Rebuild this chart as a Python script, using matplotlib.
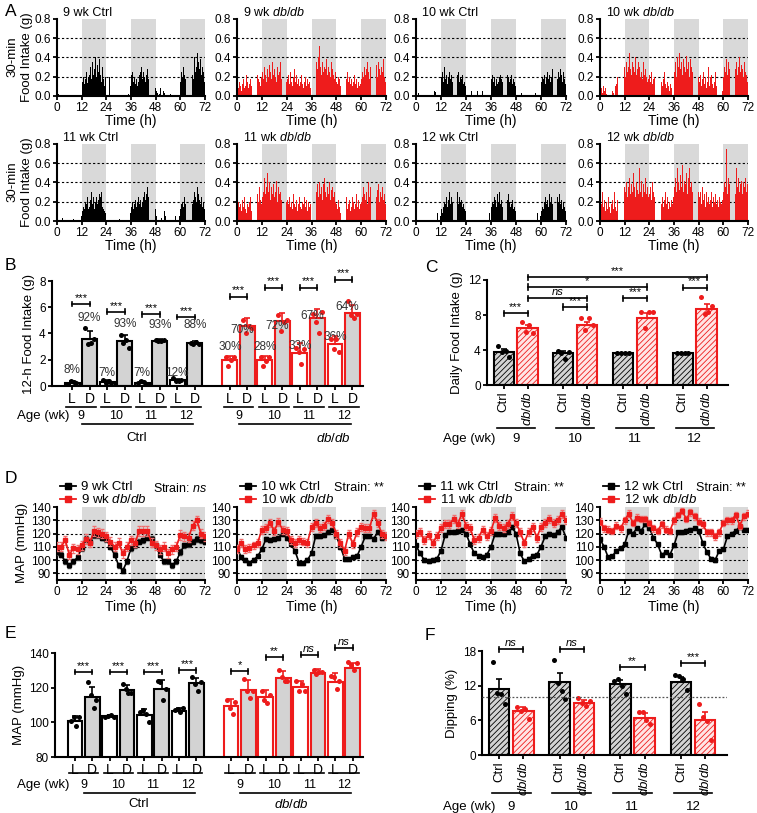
import matplotlib
matplotlib.use("Agg")
import matplotlib.pyplot as plt
from matplotlib.lines import Line2D
import numpy as np

W, H = 757, 813
plt.rcParams['font.family'] = ['Liberation Sans', 'DejaVu Sans']
plt.rcParams['mathtext.fontset'] = 'custom'
plt.rcParams['mathtext.rm'] = 'Liberation Sans'
plt.rcParams['mathtext.it'] = 'Liberation Sans:italic'
plt.rcParams['hatch.linewidth'] = 0.6

RED = '#ee1c1c'
GRAY = '#d3d3d3'
SHADE = '#d9d9d9'

# ---------------- A: 30-min food intake, hundredths of g, 144 bins (0-72 h)
food_9_ctrl = [0, 2, 1, 1, 0, 0, 0, 0, 0, 0, 0, 0, 0, 0, 0, 0, 0, 0, 3, 5, 1, 0, 0, 0,
               15, 20, 12, 18, 25, 14, 20, 22, 30, 18, 35, 22, 28, 40, 20, 32, 25, 38, 22, 15, 30, 18, 10, 20,
               0, 0, 0, 20, 0, 0, 0, 0, 0, 0, 0, 0, 0, 0, 0, 0, 0, 0, 0, 0, 0, 2, 0, 10,
               22, 25, 15, 20, 12, 18, 10, 15, 22, 25, 30, 18, 25, 20, 15, 22, 28, 18, 12, 20, 15, 10, 12, 8,
               5, 3, 0, 2, 8, 0, 0, 5, 3, 0, 0, 0, 0, 0, 2, 0, 0, 0, 0, 0, 0, 0, 0, 0,
               15, 25, 20, 30, 22, 18, 28, 35, 25, 20, 30, 22, 18, 40, 25, 30, 45, 35, 28, 38, 22, 30, 25, 15]
food_9_db = [12, 8, 15, 10, 5, 12, 18, 8, 10, 22, 15, 8, 12, 18, 10, 5, 15, 20, 12, 22, 18, 15, 10, 20,
             25, 18, 30, 22, 15, 28, 20, 32, 25, 18, 35, 22, 28, 20, 15, 30, 22, 25, 35, 18, 28, 22, 20, 15,
             18, 22, 12, 25, 15, 10, 20, 28, 15, 22, 12, 18, 10, 15, 22, 12, 8, 15, 20, 10, 18, 12, 15, 8,
             20, 30, 25, 18, 35, 28, 40, 52, 30, 22, 35, 25, 30, 28, 38, 22, 30, 25, 20, 35, 28, 22, 18, 25,
             15, 12, 20, 18, 10, 22, 15, 8, 12, 18, 25, 15, 20, 12, 18, 10, 15, 22, 12, 18, 8, 15, 10, 12,
             18, 25, 20, 30, 22, 28, 35, 25, 18, 30, 22, 40, 28, 25, 32, 20, 35, 28, 22, 30, 25, 38, 20, 15]
food_10_ctrl = [0, 0, 3, 0, 0, 0, 0, 0, 0, 0, 0, 0, 0, 0, 0, 0, 0, 5, 4, 0, 0, 0, 0, 0,
                20, 25, 15, 30, 18, 22, 12, 20, 25, 18, 22, 15, 20, 28, 18, 22, 25, 15, 20, 18, 22, 12, 15, 10,
                0, 0, 0, 0, 0, 5, 0, 0, 0, 0, 0, 5, 0, 0, 0, 5, 0, 0, 0, 0, 0, 0, 0, 0,
                18, 22, 15, 20, 10, 18, 12, 15, 20, 22, 18, 15, 20, 25, 18, 22, 20, 15, 18, 22, 12, 18, 15, 10,
                0, 0, 0, 0, 0, 3, 0, 0, 0, 0, 0, 0, 0, 0, 0, 0, 0, 0, 3, 0, 0, 0, 0, 0,
                15, 20, 18, 22, 12, 20, 25, 18, 22, 15, 20, 28, 22, 25, 30, 18, 25, 20, 28, 22, 15, 25, 18, 12]
food_10_db = [5, 8, 3, 10, 5, 8, 2, 0, 0, 0, 0, 0, 5, 3, 0, 10, 12, 20, 15, 25, 18, 10, 15, 30,
              20, 35, 25, 30, 45, 28, 22, 35, 30, 25, 40, 22, 28, 35, 30, 20, 25, 18, 35, 22, 28, 20, 15, 18,
              22, 15, 25, 12, 18, 20, 10, 15, 8, 12, 20, 15, 10, 18, 25, 12, 8, 15, 10, 5, 12, 8, 0, 0,
              25, 35, 20, 40, 30, 45, 28, 35, 22, 38, 30, 25, 42, 28, 35, 20, 38, 30, 25, 45, 22, 30, 35, 20,
              15, 22, 10, 18, 25, 12, 20, 8, 15, 30, 10, 20, 22, 12, 8, 15, 25, 10, 0, 0, 0, 0, 0, 5,
              20, 30, 25, 38, 22, 35, 28, 40, 25, 32, 20, 28, 35, 22, 30, 40, 25, 32, 28, 20, 35, 25, 22, 15]
food_11_ctrl = [0, 0, 0, 0, 0, 3, 0, 0, 0, 0, 0, 0, 0, 0, 0, 0, 2, 0, 0, 3, 0, 0, 4, 5,
                10, 15, 12, 20, 18, 25, 12, 15, 22, 30, 18, 25, 12, 20, 25, 18, 22, 28, 25, 30, 15, 12, 10, 8,
                0, 0, 0, 0, 0, 0, 0, 0, 0, 0, 0, 0, 2, 0, 0, 0, 0, 0, 0, 0, 0, 0, 0, 8,
                15, 20, 12, 18, 22, 15, 20, 25, 18, 22, 15, 20, 25, 30, 22, 28, 35, 25, 40, 30, 22, 18, 15, 12,
                5, 0, 0, 0, 0, 3, 0, 0, 10, 5, 0, 0, 0, 0, 0, 0, 0, 0, 0, 5, 0, 0, 0, 5,
                12, 18, 20, 15, 25, 18, 22, 12, 20, 28, 25, 18, 22, 30, 25, 20, 35, 28, 22, 18, 25, 15, 20, 12]
food_11_db = [30, 20, 15, 18, 10, 22, 15, 25, 12, 8, 18, 15, 20, 25, 10, 18, 12, 22, 15, 28, 20, 35, 22, 18,
              25, 30, 45, 28, 35, 50, 30, 40, 22, 35, 28, 38, 25, 30, 42, 20, 35, 28, 30, 22, 38, 25, 30, 20,
              22, 18, 25, 15, 20, 12, 28, 18, 15, 22, 10, 18, 25, 15, 12, 20, 18, 25, 15, 22, 10, 20, 15, 18,
              25, 35, 22, 48, 30, 38, 25, 40, 28, 35, 22, 38, 45, 30, 25, 35, 28, 40, 22, 32, 35, 25, 30, 20,
              18, 12, 22, 15, 8, 0, 0, 20, 15, 25, 12, 18, 22, 10, 15, 25, 20, 12, 18, 28, 15, 22, 12, 18,
              20, 25, 35, 28, 22, 30, 18, 40, 25, 35, 30, 22, 45, 28, 25, 32, 38, 20, 30, 25, 35, 22, 28, 18]
food_12_ctrl = [10, 0, 0, 0, 0, 0, 0, 0, 0, 0, 0, 0, 5, 0, 0, 0, 0, 0, 0, 0, 8, 0, 0, 5,
                12, 8, 15, 20, 18, 25, 15, 22, 30, 18, 25, 20, 15, 28, 22, 30, 18, 25, 20, 22, 15, 18, 12, 10,
                0, 0, 0, 0, 0, 0, 0, 0, 0, 0, 0, 0, 0, 0, 0, 0, 0, 0, 0, 0, 0, 0, 8, 0,
                15, 20, 18, 25, 22, 15, 28, 20, 30, 18, 22, 15, 20, 25, 18, 22, 28, 20, 15, 18, 22, 12, 15, 10,
                0, 0, 0, 0, 0, 0, 0, 0, 0, 0, 0, 0, 0, 0, 5, 0, 0, 0, 0, 0, 8, 0, 0, 5,
                10, 15, 12, 20, 25, 18, 22, 15, 28, 20, 25, 18, 30, 22, 15, 25, 20, 28, 18, 22, 12, 20, 15, 10]
food_12_db = [25, 18, 30, 15, 22, 10, 20, 12, 25, 15, 8, 18, 22, 12, 30, 15, 10, 22, 18, 25, 12, 28, 20, 35,
              30, 40, 25, 35, 45, 28, 38, 30, 50, 35, 25, 40, 32, 28, 55, 30, 42, 25, 38, 30, 45, 28, 35, 25,
              28, 35, 22, 40, 30, 25, 35, 20, 28, 22, 30, 18, 25, 15, 22, 30, 18, 25, 12, 20, 15, 22, 18, 25,
              35, 45, 30, 55, 40, 32, 48, 35, 58, 30, 42, 38, 50, 28, 45, 55, 35, 40, 30, 48, 35, 42, 28, 30,
              25, 30, 18, 35, 22, 28, 15, 30, 20, 25, 18, 22, 30, 15, 25, 20, 28, 18, 22, 15, 25, 20, 18, 22,
              30, 40, 35, 75, 28, 45, 38, 30, 50, 35, 42, 28, 55, 35, 45, 30, 38, 42, 28, 40, 35, 45, 30, 38]
food_titles = ['9 wk Ctrl', '9 wk $\\it{db/db}$', '10 wk Ctrl', '10 wk $\\it{db/db}$',
               '11 wk Ctrl', '11 wk $\\it{db/db}$', '12 wk Ctrl', '12 wk $\\it{db/db}$']

# ---------------- B: 12-h food intake (g), L / D per age
ages = ['9', '10', '11', '12']
b_ctrl_L = [0.25, 0.3, 0.25, 0.45]
b_ctrl_D = [3.6, 3.4, 3.45, 3.25]
b_db_L = [2.0, 1.95, 2.55, 3.2]
b_db_D = [4.55, 4.95, 5.15, 5.55]
b_ctrl_L_sd = [0.1, 0.12, 0.1, 0.12]
b_ctrl_D_sd = [0.6, 0.45, 0.1, 0.15]
b_db_L_sd = [0.3, 0.35, 0.7, 0.6]
b_db_D_sd = [0.6, 0.6, 0.75, 0.6]
b_ctrl_L_pts = [[0.15, 0.35, 0.3, 0.2], [0.45, 0.2, 0.35, 0.2], [0.2, 0.35, 0.3, 0.15], [0.6, 0.35, 0.4, 0.45]]
b_ctrl_D_pts = [[4.4, 3.2, 3.3, 3.6], [3.9, 3.3, 3.5, 2.9], [3.5, 3.45, 3.4, 3.5], [3.3, 3.2, 3.35, 3.2]]
b_db_L_pts = [[2.2, 1.5, 2.0, 2.2], [2.2, 1.5, 1.9, 2.2], [2.9, 2.6, 1.7, 2.8], [3.6, 2.8, 3.6, 2.6]]
b_db_D_pts = [[5.0, 4.0, 4.6, 4.4], [5.4, 4.2, 4.9, 5.0], [5.5, 4.9, 4.0, 5.6], [6.5, 5.4, 5.2, 5.5]]
b_pct_L = ['8%', '7%', '7%', '12%', '30%', '28%', '33%', '36%']
b_pct_D = ['92%', '93%', '93%', '88%', '70%', '72%', '67%', '64%']
b_sig_ctrl = ['***', '***', '***', '***']
b_sig_db = ['***', '***', '***', '***']

# ---------------- C: daily food intake (g)
c_ctrl = [3.8, 3.6, 3.65, 3.65]
c_db = [6.5, 6.8, 7.6, 8.7]
c_ctrl_sem = [0.3, 0.3, 0.05, 0.05]
c_db_sem = [0.35, 0.45, 0.6, 0.55]
c_ctrl_pts = [[4.5, 3.8, 3.9, 3.2], [3.9, 3.6, 3.0, 3.8], [3.7, 3.6, 3.65, 3.7], [3.7, 3.6, 3.65, 3.7]]
c_db_pts = [[7.2, 6.1, 6.8, 5.9], [7.6, 6.3, 7.7, 6.8], [8.3, 6.5, 8.3, 8.3], [10.0, 8.1, 8.3, 9.0]]
c_sig_pair = ['***', '***', '***', '***']
c_sig_long = ['ns', '*', '***']

# ---------------- D: MAP time course, 2-h bins 0-72 h
map_time = [0, 2, 4, 6, 8, 10, 12, 14, 16, 18, 20, 22, 24, 26, 28, 30, 32, 34, 36,
            38, 40, 42, 44, 46, 48, 50, 52, 54, 56, 58, 60, 62, 64, 66, 68, 70, 72]
map_9_ctrl = [106, 104, 99, 96, 99, 102, 109, 116, 114, 119, 119, 117, 116, 110, 104, 96, 92, 99, 109,
              111, 114, 115, 117, 116, 111, 104, 99, 99, 96, 99, 106, 111, 112, 114, 116, 115, 114]
map_9_db = [110, 110, 115, 104, 109, 108, 111, 116, 113, 122, 121, 120, 118, 114, 110, 113, 105, 110, 115,
            113, 122, 122, 122, 113, 111, 108, 110, 105, 108, 110, 119, 118, 117, 126, 130, 120, 118]
map_10_ctrl = [110, 102, 100, 98, 100, 103, 108, 116, 115, 116, 117, 120, 117, 112, 107, 98, 98, 100, 105,
               118, 118, 119, 121, 123, 118, 110, 101, 101, 102, 103, 110, 118, 118, 116, 121, 117, 118]
map_10_db = [108, 113, 108, 109, 111, 113, 123, 124, 128, 122, 129, 123, 122, 115, 113, 115, 114, 113, 125,
             128, 124, 126, 131, 128, 120, 113, 107, 120, 112, 121, 125, 124, 124, 135, 128, 120, 118]
map_11_ctrl = [111, 105, 100, 99, 100, 101, 107, 119, 121, 121, 122, 123, 120, 112, 105, 103, 102, 104, 110,
               120, 120, 120, 121, 125, 120, 105, 99, 101, 103, 104, 110, 118, 120, 119, 121, 125, 117]
map_11_db = [120, 121, 115, 119, 113, 118, 124, 127, 127, 131, 127, 135, 126, 124, 115, 117, 123, 118, 122,
             132, 126, 124, 127, 133, 128, 121, 113, 121, 125, 117, 125, 128, 131, 128, 130, 135, 130]
map_12_ctrl = [116, 110, 102, 103, 107, 109, 112, 122, 120, 124, 122, 127, 124, 117, 112, 104, 106, 104, 111,
               121, 121, 122, 123, 124, 122, 113, 106, 101, 100, 107, 108, 118, 120, 122, 125, 123, 123]
map_12_db = [129, 124, 123, 122, 126, 124, 130, 135, 128, 132, 131, 131, 128, 124, 122, 127, 123, 122, 130,
             134, 137, 131, 136, 133, 129, 127, 121, 121, 118, 121, 128, 130, 130, 134, 126, 133, 135]
map_sem_ctrl = [2.0, 1.5, 1.5, 1.2]
map_sem_db = [3.5, 3.0, 3.0, 2.5]
map_strain = ['$\\it{ns}$', '**', '**', '**']

# ---------------- E: MAP light / dark (mmHg)
e_ctrl_L = [100.5, 103.5, 104.5, 106.5]
e_ctrl_D = [114.5, 118.5, 119.5, 122.5]
e_db_L = [109.5, 114.5, 120.5, 123.5]
e_db_D = [118.5, 125.5, 128.5, 131.5]
e_ctrl_L_sd = [3, 1, 3, 1.5]
e_ctrl_D_sd = [6, 3, 5, 3]
e_db_L_sd = [4, 4, 3.5, 5]
e_db_D_sd = [6, 4, 2, 3]
e_ctrl_L_pts = [[101, 103, 98, 103], [103, 103.5, 104, 103], [106, 107, 105, 100], [107, 107.5, 106, 108]]
e_ctrl_D_pts = [[123, 116, 108, 113], [122, 119, 117, 117], [124, 123, 113, 119], [126, 122, 118, 123]]
e_db_L_pts = [[113, 108, 105, 112], [118, 113, 111, 116], [124, 118, 122, 118], [127, 126, 119, 124]]
e_db_D_pts = [[125, 118, 114, 118], [130, 126, 124, 124], [130, 128, 129, 129], [135, 133, 130, 134]]
e_sig_ctrl = ['***', '***', '***', '***']
e_sig_db = ['*', '**', 'ns', 'ns']

# ---------------- F: dipping (%)
f_ctrl = [11.4, 12.6, 12.3, 12.7]
f_db = [7.7, 9.0, 6.4, 6.0]
f_ctrl_sem = [1.7, 1.6, 0.6, 0.8]
f_db_sem = [0.6, 0.5, 0.8, 1.4]
f_ctrl_pts = [[16.1, 10.8, 10.5, 8.8], [16.4, 12.5, 11.0, 9.7], [12.8, 13.2, 11.9, 10.5], [13.9, 13.6, 13.2, 11.2]]
f_db_pts = [[8.3, 7.7, 7.9, 6.3], [9.8, 9.0, 8.4, 9.3], [7.5, 7.5, 6.0, 5.3], [8.9, 6.5, 5.8, 2.6]]
f_sig = ['ns', 'ns', '**', '***']

# layout of annotations (heights in data units)
b_sig_y_ctrl = [6.25, 5.65, 5.45, 5.25]
b_sig_y_db = [6.8, 7.5, 7.5, 8.1]
b_pct_y_L = [1.2, 1.02, 1.02, 1.02, 3.0, 3.0, 3.06, 3.75]
b_pct_y_D = [5.2, 4.7, 4.64, 4.64, 4.25, 4.6, 5.35, 6.04]
c_sig_pair_y = [8.2, 8.9, 9.9, 11.1]
c_sig_long_y = [9.9, 11.2, 12.3]
e_sig_y_ctrl = [129, 129, 129, 130]
e_sig_y_db = [129.5, 137.5, 139, 143]
f_sig_y = [18.3, 18.3, 15.2, 15.9]


def px_axes(fig, x0, y0, x1, y1):
    return fig.add_axes([x0 / W, 1 - y1 / H, (x1 - x0) / W, (y1 - y0) / H])


def yfrac(ax, ypx):
    b = ax.get_position()
    return ((1 - ypx / H) - b.y0) / b.height


def style(ax, fs=8.5):
    for s in ['top', 'right']:
        ax.spines[s].set_visible(False)
    for s in ['left', 'bottom']:
        ax.spines[s].set_linewidth(1.5)
    ax.tick_params(width=1.3, length=3, labelsize=fs, pad=1.5)


def under_text(ax, x, ypx, s, **kw):
    ax.text(x, yfrac(ax, ypx), s, transform=ax.get_xaxis_transform(), ha='center', va='center',
            clip_on=False, **kw)


def under_line(ax, x0, x1, ypx):
    y = yfrac(ax, ypx)
    ax.plot([x0, x1], [y, y], transform=ax.get_xaxis_transform(), color='k', lw=1.2, clip_on=False)


def bracket(ax, x0, x1, y, label, tick, fs=8):
    ax.plot([x0, x1], [y, y], color='k', lw=1.2, clip_on=False, zorder=5)
    for xx in (x0, x1):
        ax.plot([xx, xx], [y - tick, y + tick], color='k', lw=1.2, clip_on=False, zorder=5)
    it = label == 'ns'
    ax.text((x0 + x1) / 2, y + tick * 0.5, label, ha='center', va='bottom', fontsize=fs,
            style='italic' if it else 'normal', clip_on=False)


def bars(ax, x, means, errs, pts, face, edge, dot, hatch=None, width=0.85):
    ax.bar(x, means, width=width, color=face, edgecolor=edge, linewidth=1.5, hatch=hatch, zorder=2)
    ax.errorbar(x, means, yerr=[np.zeros(len(x)), errs], fmt='none', ecolor=edge, elinewidth=1.2,
                capsize=2.5, capthick=1.2, zorder=3)
    offs = np.array([-0.24, -0.08, 0.08, 0.24])
    for xi, p in zip(x, pts):
        ax.scatter(xi + offs, p, s=13, color=dot, zorder=4, linewidths=0, clip_on=False)


fig = plt.figure(figsize=(W / 100, H / 100), dpi=100)

# ================= A
cols = [(57, 205), (237, 386), (416, 566), (600, 748)]
rows = [(19, 96), (144, 221)]
food_all = [food_9_ctrl, food_9_db, food_10_ctrl, food_10_db,
            food_11_ctrl, food_11_db, food_12_ctrl, food_12_db]
t_food = np.arange(144) * 0.5
for i, data in enumerate(food_all):
    r = rows[i // 4]
    c = cols[i % 4]
    ax = px_axes(fig, c[0], r[0], c[1], r[1])
    style(ax)
    for s in (12, 36, 60):
        ax.axvspan(s, s + 12, color=SHADE, lw=0, zorder=0)
    for v in (0.2, 0.4, 0.6):
        ax.axhline(v, color='k', ls=(0, (2, 2)), lw=0.8, zorder=1)
    col = 'k' if i % 2 == 0 else RED
    ax.bar(t_food, np.array(data) / 100, width=0.42, align='edge', color=col, lw=0, zorder=2)
    ax.set_xlim(0, 72)
    ax.set_ylim(0, 0.8)
    ax.set_xticks(range(0, 73, 12))
    ax.set_yticks([0, 0.2, 0.4, 0.6, 0.8])
    ax.set_yticklabels(['0.0', '0.2', '0.4', '0.6', '0.8'])
    ax.set_xlabel('Time (h)', fontsize=10, labelpad=0)
    ax.text(0.04, 1.0, food_titles[i], transform=ax.transAxes, fontsize=9, va='bottom')
for yc in (57, 182):
    fig.text(12 / W, 1 - yc / H, '30-min', rotation=90, fontsize=9.5, ha='center', va='center')
    fig.text(27 / W, 1 - yc / H, 'Food Intake (g)', rotation=90, fontsize=9.5, ha='center', va='center')


# ================= B and E (light / dark bars)
def ld_panel(ax, cL, cD, dL, dD, cLe, cDe, dLe, dDe, cLp, cDp, dLp, dDp, ys):
    pos_cL = np.array([0, 2, 4, 6])
    pos_dL = pos_cL + 9
    bars(ax, pos_cL, cL, cLe, cLp, 'white', 'k', 'k')
    bars(ax, pos_cL + 1, cD, cDe, cDp, GRAY, 'k', 'k')
    bars(ax, pos_dL, dL, dLe, dLp, 'white', RED, RED)
    bars(ax, pos_dL + 1, dD, dDe, dDp, GRAY, RED, RED)
    ticks = np.concatenate([pos_cL, pos_cL + 1, pos_dL, pos_dL + 1])
    ax.set_xticks(ticks)
    ax.set_xticklabels(['L'] * 4 + ['D'] * 4 + ['L'] * 4 + ['D'] * 4, fontsize=10)
    ax.set_xlim(-1.15, 16.6)
    ly, ny, gy, sy = ys
    for p in np.concatenate([pos_cL, pos_dL]):
        under_line(ax, p - 0.35, p + 1.35, ly)
    for k, p in enumerate(pos_cL):
        under_text(ax, p + 0.5, ny, ages[k], fontsize=9)
        under_text(ax, p + 9.5, ny, ages[k], fontsize=9)
    under_line(ax, 0.55, 6.9, gy)
    under_line(ax, 9.5, 15.9, gy)
    return pos_cL, pos_dL


axB = px_axes(fig, 52, 281, 363, 386)
style(axB)
axB.set_ylim(0, 8)
axB.set_yticks([0, 2, 4, 6, 8])
pcL, pdL = ld_panel(axB, b_ctrl_L, b_ctrl_D, b_db_L, b_db_D, b_ctrl_L_sd, b_ctrl_D_sd, b_db_L_sd, b_db_D_sd,
                    b_ctrl_L_pts, b_ctrl_D_pts, b_db_L_pts, b_db_D_pts, (407, 416, 424, 437))
under_text(axB, 3.7, 438, 'Ctrl', fontsize=9.5)
under_text(axB, 14.9, 438, '$\\it{db/db}$', fontsize=9.5)
fig.text(17 / W, 1 - 416 / H, 'Age (wk)', fontsize=9.5, va='center')
axB.set_ylabel('12-h Food Intake (g)', fontsize=9.5, labelpad=3)
posL = np.concatenate([pcL, pdL])
for k in range(8):
    shift = -0.3 if k >= 4 else 0.0
    axB.text(posL[k], b_pct_y_L[k], b_pct_L[k], ha='center', va='center', fontsize=8.5, color='#333333')
    axB.text(posL[k] + 1 + shift, b_pct_y_D[k], b_pct_D[k], ha='center', va='center', fontsize=8.5,
             color='#333333', zorder=6)
for k in range(4):
    bracket(axB, pcL[k], pcL[k] + 1, b_sig_y_ctrl[k], b_sig_ctrl[k], 0.18)
    bracket(axB, pdL[k], pdL[k] + 1, b_sig_y_db[k], b_sig_db[k], 0.18)

axE = px_axes(fig, 55, 653, 363, 757)
style(axE)
axE.set_ylim(80, 140)
axE.set_yticks([80, 100, 120, 140])
pcL, pdL = ld_panel(axE, e_ctrl_L, e_ctrl_D, e_db_L, e_db_D, e_ctrl_L_sd, e_ctrl_D_sd, e_db_L_sd, e_db_D_sd,
                    e_ctrl_L_pts, e_ctrl_D_pts, e_db_L_pts, e_db_D_pts, (773, 785, 793, 803))
under_text(axE, 3.7, 804, 'Ctrl', fontsize=9.5)
under_text(axE, 12.5, 804, '$\\it{db/db}$', fontsize=9.5)
fig.text(17 / W, 1 - 785 / H, 'Age (wk)', fontsize=9.5, va='center')
axE.set_ylabel('MAP (mmHg)', fontsize=9.5, labelpad=3)
for k in range(4):
    bracket(axE, pcL[k], pcL[k] + 1, e_sig_y_ctrl[k], e_sig_ctrl[k], 1.4)
    bracket(axE, pdL[k], pdL[k] + 1, e_sig_y_db[k], e_sig_db[k], 1.4)


# ================= C and F (hatched Ctrl vs db/db)
def cd_panel(ax, cm, dm, ce, de, cp, dp, line_y, age_y):
    pc = np.array([0, 2.5, 5, 7.5])
    pd_ = pc + 1
    bars(ax, pc, cm, ce, cp, GRAY, 'k', 'k', hatch='//////')
    bars(ax, pd_, dm, de, dp, '#ffe5e5', RED, RED, hatch='//////')
    ax.set_xticks(np.concatenate([pc, pd_]))
    ax.set_xticklabels(['Ctrl'] * 4 + ['$\\it{db/db}$'] * 4, rotation=90, fontsize=9.5)
    ax.set_xlim(-0.7, 9.4)
    for k, p in enumerate(pc):
        under_line(ax, p - 0.3, p + 1.3, line_y)
        under_text(ax, p + 0.5, age_y, ages[k], fontsize=9.5)
    return pc, pd_


axC = px_axes(fig, 487, 280, 728, 385)
style(axC)
axC.set_ylim(0, 12)
axC.set_yticks([0, 4, 8, 12])
pc, pd_ = cd_panel(axC, c_ctrl, c_db, c_ctrl_sem, c_db_sem, c_ctrl_pts, c_db_pts, 428, 439)
axC.set_ylabel('Daily Food Intake (g)', fontsize=9.5, labelpad=3)
fig.text(443 / W, 1 - 439 / H, 'Age (wk)', fontsize=9.5, va='center')
for k in range(4):
    bracket(axC, pc[k], pd_[k], c_sig_pair_y[k], c_sig_pair[k], 0.3)
for k in range(3):
    bracket(axC, pd_[0], pd_[k + 1], c_sig_long_y[k], c_sig_long[k], 0.3)

axF = px_axes(fig, 482, 651, 727, 755)
style(axF)
axF.set_ylim(0, 18)
axF.set_yticks([0, 6, 12, 18])
pc, pd_ = cd_panel(axF, f_ctrl, f_db, f_ctrl_sem, f_db_sem, f_ctrl_pts, f_db_pts, 793, 807)
axF.axhline(10, color='#555555', ls=(0, (1.5, 1.5)), lw=0.9, zorder=5)
axF.set_ylabel('Dipping (%)', fontsize=9.5, labelpad=3)
fig.text(443 / W, 1 - 807 / H, 'Age (wk)', fontsize=9.5, va='center')
for k in range(4):
    bracket(axF, pc[k], pd_[k], f_sig_y[k], f_sig[k], 0.45)

# ================= D
map_ctrl = [map_9_ctrl, map_10_ctrl, map_11_ctrl, map_12_ctrl]
map_db = [map_9_db, map_10_db, map_11_db, map_12_db]
for i in range(4):
    c = cols[i]
    ax = px_axes(fig, c[0], 507, c[1], 580)
    style(ax)
    for s in (12, 36, 60):
        ax.axvspan(s, s + 12, color=SHADE, lw=0, zorder=0)
    for v in (90, 100, 110, 120, 130):
        ax.axhline(v, color='k', ls=(0, (2, 2)), lw=0.8, zorder=1)
    ax.errorbar(map_time, map_ctrl[i], yerr=map_sem_ctrl[i], color='k', ecolor='#444444', marker='s', ms=3.5,
                lw=1.2, elinewidth=0.6, capsize=1.2, zorder=3)
    ax.errorbar(map_time, map_db[i], yerr=map_sem_db[i], color=RED, ecolor='#f07070', marker='s', ms=3.5,
                lw=1.2, elinewidth=0.6, capsize=1.2, zorder=4)
    ax.set_xlim(0, 72)
    ax.set_ylim(85, 140)
    ax.set_xticks(range(0, 73, 12))
    ax.set_yticks([90, 100, 110, 120, 130, 140])
    ax.set_xlabel('Time (h)', fontsize=10, labelpad=1)
    wk = ['9', '10', '11', '12'][i]
    hd = [Line2D([], [], color='k', marker='s', ms=4, lw=1.3),
          Line2D([], [], color=RED, marker='s', ms=4, lw=1.3)]
    ax.legend(hd, [wk + ' wk Ctrl', wk + ' wk $\\it{db/db}$'], loc='lower left', bbox_to_anchor=(0.02, 1.01),
              frameon=False, fontsize=9.5, handlelength=1.2, handletextpad=0.4, labelspacing=0.0,
              borderpad=0, borderaxespad=0)
    ax.text(0.65, yfrac(ax, 488), 'Strain: ' + map_strain[i], transform=ax.transAxes, fontsize=9, va='center')
fig.text(22 / W, 1 - 543 / H, 'MAP (mmHg)', rotation=90, fontsize=9.5, ha='center', va='center')

# panel letters
for lab, x, y in [('A', 5, 12), ('B', 5, 265), ('C', 425, 268), ('D', 5, 478), ('E', 5, 633), ('F', 425, 635)]:
    fig.text(x / W, 1 - y / H, lab, fontsize=12.5, va='center')

fig.savefig('out.png', dpi=100)
